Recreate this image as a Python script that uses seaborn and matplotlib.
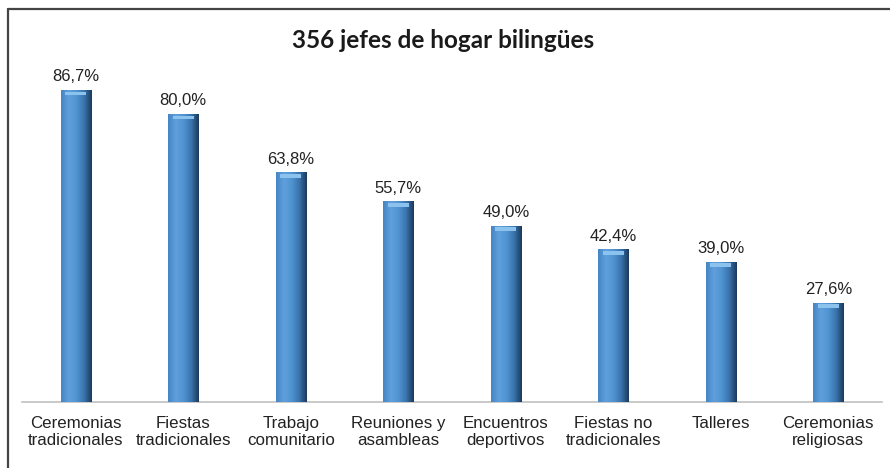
import numpy as np
import pandas as pd
import matplotlib.pyplot as plt
import seaborn as sns
from matplotlib.patches import Rectangle
from matplotlib.colors import LinearSegmentedColormap

categorias = ["Ceremonias\ntradicionales", "Fiestas\ntradicionales", "Trabajo\ncomunitario",
              "Reuniones y\nasambleas", "Encuentros\ndeportivos", "Fiestas no\ntradicionales",
              "Talleres", "Ceremonias\nreligiosas"]
porcentajes = [86.7, 80.0, 63.8, 55.7, 49.0, 42.4, 39.0, 27.6]
etiquetas = ["86,7%", "80,0%", "63,8%", "55,7%", "49,0%", "42,4%", "39,0%", "27,6%"]

df = pd.DataFrame({"cat": categorias, "pct": porcentajes})

sns.set_style("white")
plt.rcParams['font.family'] = ['Liberation Sans', 'DejaVu Sans']

fig = plt.figure(figsize=(8.9, 4.68), dpi=100)
ax = fig.add_axes([22/890, 66/468, 860/890, 360/468])

sns.barplot(data=df, x="cat", y="pct", color="#4a8fd0", width=0.28, ax=ax,
            edgecolor="none", saturation=1)

# horizontal gradient on each bar (light left, dark right)
cmap = LinearSegmentedColormap.from_list("barra", ["#4585c4", "#5fa0dc", "#5194d2", "#3a74ad", "#1b3a5c"])
grad = np.linspace(0, 1, 64).reshape(1, -1)
for p in ax.patches:
    x0, y0 = p.get_x(), p.get_y()
    w, h = p.get_width(), p.get_height()
    im = ax.imshow(grad, cmap=cmap, extent=[x0, x0 + w, y0, y0 + h], aspect="auto", zorder=3)
    im.set_clip_path(p)
    # lighter bevel cap at the top
    ax.add_patch(Rectangle((x0 + w * 0.15, y0 + h - 1.5), w * 0.7, 1.0, color="#8cc2ee",
                           zorder=4, lw=0))
ax.set_xlim(-0.5, 7.5)
ax.set_ylim(0, 100)

for i, (v, t) in enumerate(zip(porcentajes, etiquetas)):
    ax.text(i, v + 1.6, t, ha="center", va="bottom", fontsize=12, color="#222222")

ax.set_xlabel("")
ax.set_ylabel("")
ax.set_yticks([])
ax.tick_params(axis="x", length=0, pad=10, labelsize=12.2, labelcolor="#222222")
for s in ["top", "right", "left"]:
    ax.spines[s].set_visible(False)
ax.spines["bottom"].set_color("#c0c0c0")
ax.spines["bottom"].set_linewidth(1.2)

fig.text(443/890, 1 - 40/468, "356 jefes de hogar bilingües", ha="center", va="center",
         fontsize=17.5, fontweight="bold", family=["Lato", "DejaVu Sans"], color="#1a1a1a")

# outer frame (only left and top visible)
fig.add_artist(plt.Line2D([7.5/890, 7.5/890], [0, 1 - 8.5/468], transform=fig.transFigure,
                          color="#444444", lw=1.6))
fig.add_artist(plt.Line2D([7.5/890, 1], [1 - 8.5/468, 1 - 8.5/468], transform=fig.transFigure,
                          color="#444444", lw=1.6))

plt.savefig("out.png", dpi=100)
